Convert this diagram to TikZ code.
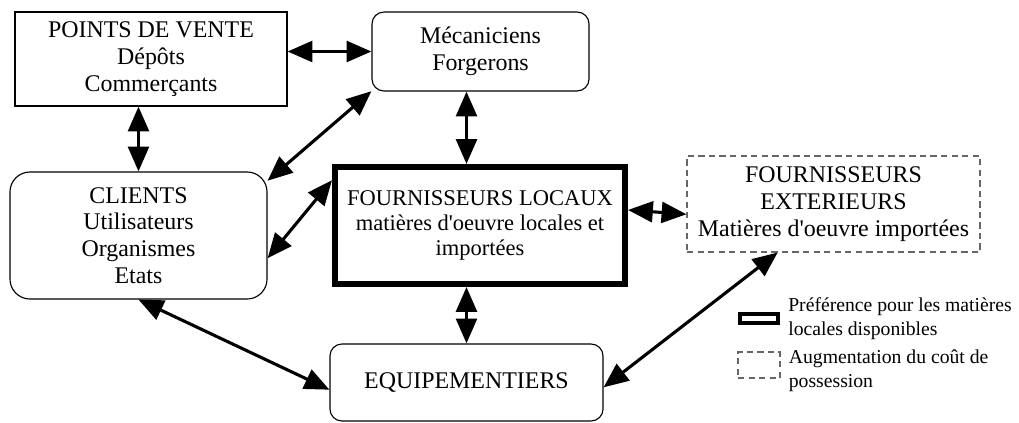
\documentclass[tikz,border=0pt]{standalone}
\usepackage{fontspec}
\setmainfont{Liberation Serif}
\usepackage{tikz}
\usetikzlibrary{arrows.meta,positioning,calc}

\begin{document}
\begin{tikzpicture}[
    x=0.025cm, y=-0.025cm,
    box/.style={draw, line width=0.8pt, align=center, inner sep=2pt,
                font=\fontsize{17}{19}\selectfont},
    plain/.style={box, rounded corners=0.3cm},
    local/.style={box, line width=0.15cm, font=\fontsize{16}{18}\selectfont},
    extern/.style={box, draw=black!60, dash pattern=on 4.5pt off 3pt},
    flow/.style={{Triangle[length=0.62cm,width=0.52cm]}-{Triangle[length=0.62cm,width=0.52cm]},
                 line width=2.2pt},
    legtext/.style={align=left, inner sep=0pt, font=\fontsize{14}{17}\selectfont},
  ]
    \useasboundingbox (0,0) rectangle (1019,422);

    % ---- actors ----
    \node[box, minimum width=6.8cm, minimum height=2.35cm] (pdv) at (151,59)
        {POINTS DE VENTE\\Dépôts\\Commerçants};
    \node[plain, minimum width=5.425cm, minimum height=1.975cm] (meca) at (480.5,51.5)
        {Mécaniciens\\Forgerons};
    \node[box, rounded corners=0.5cm, minimum width=6.425cm, minimum height=3.175cm] (clients) at (138.5,235.5)
        {CLIENTS\\Utilisateurs\\Organismes\\Etats};
    \node[local, minimum width=7.25cm, minimum height=2.925cm] (loc) at (480,225.5)
        {FOURNISSEURS LOCAUX\\matières d\textquotesingle oeuvre locales et\\importées};
    \node[extern, minimum width=7.325cm, minimum height=2.4cm] (ext) at (833.5,204)
        {FOURNISSEURS\\EXTERIEURS\\Matières d\textquotesingle oeuvre importées};
    \node[plain, minimum width=6.825cm, minimum height=1.925cm] (equip) at (466.5,382.5)
        {EQUIPEMENTIERS};

    % ---- exchanges ----
    \draw[flow] (pdv.east |- meca.west) -- (meca.west);
    \draw[flow] (pdv.south -| clients.north) -- (clients.north);
    \draw[flow] (clients.23) -- (meca.200);
    \draw[flow] (meca.south -| equip.north) -- (loc.north -| equip.north);
    \draw[flow] (clients.-10) -- (loc.163);
    \draw[flow] (loc.6) -- (ext.184);
    \draw[flow] (loc.south -| equip.north) -- (equip.north);
    \draw[flow] (clients.south) -- (equip.183);
    \draw[flow] (ext.221) -- (equip.-2);

    % ---- legend ----
    \node[draw, line width=0.1cm, minimum width=0.95cm, minimum height=0.225cm, inner sep=0pt] (legloc) at (759,318.5) {};
    \node[draw=black!60, dash pattern=on 4.5pt off 3pt, line width=0.8pt,
          minimum width=1.05cm, minimum height=0.65cm, inner sep=0pt] (legext) at (759,365) {};
    \node[legtext, right=0.2cm of legloc] (legloctxt)
        {Préférence pour les matières\\locales disponibles};
    \node[legtext, right=0.2cm of legext, yshift=-0.15cm] (legexttxt)
        {Augmentation du coût de\\possession};
  \end{tikzpicture}
\end{document}
